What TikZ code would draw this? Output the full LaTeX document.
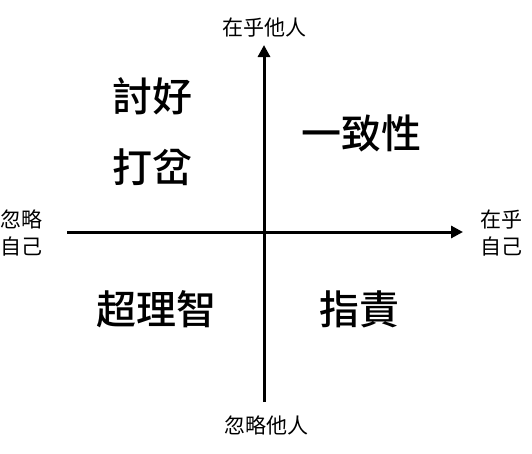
\documentclass[tikz,border=0pt]{standalone}
\usepackage{fontspec}
\newfontfamily\cjk{Noto Sans CJK TC}
\newfontfamily\cjkmed[UprightFont={* Medium}]{Noto Sans CJK TC}
\usetikzlibrary{arrows.meta}
\tikzset{>={Triangle[length=12pt,width=12pt]}}
\tikzset{axis/.style={line width=3pt,->},
  quad/.style={font=\cjkmed\fontsize{40}{48}\selectfont,inner sep=0pt},
  pole/.style={font=\cjk\fontsize{21}{27}\selectfont,align=center,inner sep=0pt}}

\begin{document}
\begin{tikzpicture}[x=1pt,y=-1pt]
\useasboundingbox (0,0) rectangle (532,453);
\coordinate (T) at (264,45);
\coordinate (B) at (264,402);
\coordinate (L) at (67,232);
\coordinate (R) at (463,232);
\draw[axis] (B) -- (T);
\draw[axis] (L) -- (R);
% axis ends
\node[pole] (top) at (264,28) {在乎他人};
\node[pole] (bottom) at (266,425) {忽略他人};
\node[pole] (left) at (22,233) {忽略\\自己};
\node[pole] (right) at (501,233) {在乎\\自己};
% quadrants
\foreach \x/\y/\name/\txt in {152/96/please/討好,152/167/distract/打岔,361/133/congruent/一致性,156/309/reason/超理智,359/309/blame/指責}
  \node[quad] (\name) at (\x,\y) {\txt};
\end{tikzpicture}
\end{document}
